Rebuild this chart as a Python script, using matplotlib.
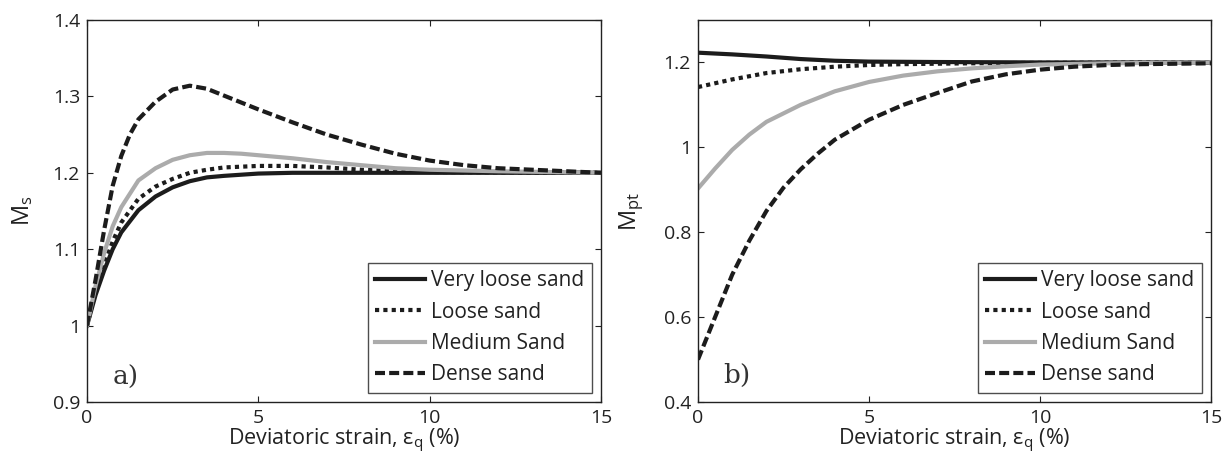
import numpy as np
import matplotlib
matplotlib.use("Agg")
import matplotlib.pyplot as plt

plt.rcParams['font.family'] = ['Open Sans', 'DejaVu Sans']
plt.rcParams['mathtext.fontset'] = 'custom'
plt.rcParams['mathtext.rm'] = 'Open Sans'
plt.rcParams['mathtext.it'] = 'Open Sans:italic'

labels = ["Very loose sand", "Loose sand", "Medium Sand", "Dense sand"]

# Panel a) M_s
xa_vl = [0, 0.25, 0.5, 0.75, 1, 1.5, 2, 2.5, 3, 3.5, 4, 5, 6, 7, 15]
ya_vl = [1.0, 1.04, 1.072, 1.1, 1.122, 1.151, 1.169, 1.181, 1.189, 1.194, 1.196, 1.199, 1.2, 1.2, 1.2]
xa_l = [0, 0.25, 0.5, 0.75, 1, 1.5, 2, 2.5, 3, 3.5, 4, 5, 6, 7, 8, 10, 15]
ya_l = [1.0, 1.045, 1.08, 1.11, 1.135, 1.166, 1.182, 1.192, 1.2, 1.204, 1.207, 1.209, 1.209, 1.207, 1.204, 1.201, 1.2]
xa_m = [0, 0.25, 0.5, 0.75, 1, 1.5, 2, 2.5, 3, 3.5, 4, 4.5, 5, 6, 7, 8, 9, 10, 12, 15]
ya_m = [1.0, 1.052, 1.095, 1.13, 1.155, 1.19, 1.206, 1.217, 1.223, 1.226, 1.226, 1.225, 1.223, 1.219, 1.214, 1.21, 1.206, 1.204, 1.202, 1.2]
xa_d = [0, 0.25, 0.5, 0.75, 1, 1.25, 1.5, 2, 2.5, 3, 3.5, 4, 5, 6, 7, 8, 9, 10, 11, 12, 13, 14, 15]
ya_d = [1.0, 1.06, 1.125, 1.183, 1.222, 1.25, 1.27, 1.293, 1.309, 1.314, 1.31, 1.301, 1.283, 1.266, 1.25, 1.237, 1.225, 1.216, 1.21, 1.206, 1.204, 1.202, 1.2]

# Panel b) M_pt
xb_vl = [0, 1, 2, 3, 4, 5, 7, 10, 15]
yb_vl = [1.223, 1.219, 1.214, 1.208, 1.204, 1.202, 1.201, 1.2, 1.2]
xb_l = [0, 1, 2, 3, 4, 5, 6, 8, 10, 15]
yb_l = [1.142, 1.16, 1.175, 1.184, 1.19, 1.194, 1.196, 1.198, 1.199, 1.2]
xb_m = [0, 0.5, 1, 1.5, 2, 3, 4, 5, 6, 7, 8, 9, 10, 12, 15]
yb_m = [0.903, 0.95, 0.994, 1.03, 1.06, 1.1, 1.132, 1.154, 1.169, 1.179, 1.186, 1.191, 1.195, 1.198, 1.2]
xb_d = [0, 0.25, 0.5, 1, 1.5, 2, 2.5, 3, 3.5, 4, 5, 6, 7, 8, 9, 10, 11, 12, 13, 15]
yb_d = [0.5, 0.55, 0.6, 0.7, 0.78, 0.85, 0.905, 0.948, 0.985, 1.018, 1.065, 1.1, 1.128, 1.155, 1.172, 1.183, 1.19, 1.194, 1.196, 1.198]

BLACK = '#1c1c1c'
GRAY = '#ababab'
LW = 3.0
styles = [
    dict(color=BLACK, lw=LW, ls='-'),
    dict(color=BLACK, lw=LW, dashes=(1.0, 1.0)),
    dict(color=GRAY, lw=LW, ls='-'),
    dict(color=BLACK, lw=LW, dashes=(2.4, 1.0)),
]

fig = plt.figure(figsize=(12.26, 4.71), dpi=100)
axA = fig.add_axes([87/1226, 69/471, 514/1226, 382/471])
axB = fig.add_axes([698/1226, 69/471, 513/1226, 382/471])

TXT = '#222222'

def style_axes(ax):
    for s in ax.spines.values():
        s.set_linewidth(1.0)
        s.set_color(TXT)
    ax.tick_params(direction='in', length=4, width=0.8, top=True, right=True,
                   labelsize=14, colors=TXT, pad=5)
    ax.set_xlim(0, 15)
    ax.set_xticks([0, 5, 10, 15])
    ax.set_xlabel('Deviatoric strain, ε$_{\\mathregular{q}}$ (%)', fontsize=15.5, color=TXT, labelpad=0)

for ax, data in [(axA, [(xa_vl, ya_vl), (xa_l, ya_l), (xa_m, ya_m), (xa_d, ya_d)]),
                 (axB, [(xb_vl, yb_vl), (xb_l, yb_l), (xb_m, yb_m), (xb_d, yb_d)])]:
    for (x, y), st, lab in zip(data, styles, labels):
        ax.plot(x, y, label=lab, **st)
    style_axes(ax)
    leg = ax.legend(loc='lower right', fontsize=15, frameon=True, fancybox=False,
                    edgecolor=TXT, handlelength=2.4, handletextpad=0.3,
                    labelspacing=0.5, borderpad=0.35, borderaxespad=0.45)
    leg.get_frame().set_linewidth(1.0)
    for t in leg.get_texts():
        t.set_color(TXT)

axA.set_ylim(0.9, 1.4)
axA.set_yticks([0.9, 1.0, 1.1, 1.2, 1.3, 1.4])
axA.set_yticklabels(['0.9', '1', '1.1', '1.2', '1.3', '1.4'])
axA.set_ylabel('M$_{\\mathregular{s}}$', fontsize=17, color=TXT, labelpad=13)
axA.text(0.075, 0.065, 'a)', transform=axA.transAxes, fontsize=19,
         family='DejaVu Serif', ha='center', va='center', color='#333333')

axB.set_ylim(0.4, 1.3)
axB.set_yticks([0.4, 0.6, 0.8, 1.0, 1.2])
axB.set_yticklabels(['0.4', '0.6', '0.8', '1', '1.2'])
axB.set_ylabel('M$_{\\mathregular{pt}}$', fontsize=17, color=TXT, labelpad=13)
axB.text(0.076, 0.07, 'b)', transform=axB.transAxes, fontsize=19,
         family='DejaVu Serif', ha='center', va='center', color='#333333')

fig.savefig('out.png', dpi=100)
